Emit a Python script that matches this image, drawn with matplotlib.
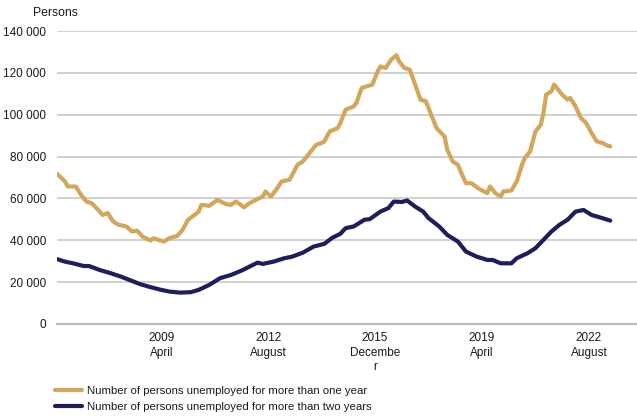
import matplotlib
matplotlib.use("Agg")
import matplotlib.pyplot as plt

plt.rcParams['font.family'] = ['Liberation Sans', 'DejaVu Sans']

# Months (YYYY-MM) and values
one_year_months = [
    "2006-01", "2006-04", "2006-05", "2006-08", "2006-10", "2006-12", "2007-02", "2007-05",
    "2007-06", "2007-08", "2007-10", "2007-12", "2008-03", "2008-05", "2008-07", "2008-09",
    "2008-12", "2009-01", "2009-03", "2009-05", "2009-07", "2009-10", "2009-12", "2010-02",
    "2010-04", "2010-06", "2010-07", "2010-10", "2011-01", "2011-04", "2011-06", "2011-08",
    "2011-11", "2012-01", "2012-04", "2012-06", "2012-07", "2012-09", "2012-11", "2013-01",
    "2013-04", "2013-05", "2013-07", "2013-09", "2013-11", "2014-02", "2014-04", "2014-05",
    "2014-07", "2014-10", "2014-11", "2015-01", "2015-04", "2015-05", "2015-07", "2015-09",
    "2015-11", "2016-01", "2016-02", "2016-04", "2016-06", "2016-08", "2016-09", "2016-11",
    "2017-01", "2017-03", "2017-05", "2017-07", "2017-09", "2017-11", "2018-02", "2018-03",
    "2018-05", "2018-07", "2018-08", "2018-10", "2018-12", "2019-03", "2019-06", "2019-07",
    "2019-09", "2019-11", "2019-12", "2020-03", "2020-05", "2020-07", "2020-08", "2020-10",
    "2020-12", "2021-02", "2021-03", "2021-04", "2021-06", "2021-07", "2021-10", "2021-12",
    "2022-01", "2022-03", "2022-05", "2022-07", "2022-09", "2022-11", "2023-01", "2023-03",
    "2023-04",
]
one_year_values = [
    71800, 68100, 65700, 65700, 61700, 58500, 57700, 53700,
    52100, 53000, 49000, 47400, 46600, 44200, 44600, 41800,
    39900, 41000, 40200, 39400, 41000, 42100, 45000, 49800,
    51700, 53700, 56900, 56500, 59300, 57400, 56900, 58500,
    55800, 57700, 59700, 60900, 63300, 60900, 64100, 68100,
    68900, 71300, 76100, 77700, 80900, 85700, 86500, 87200,
    92000, 93600, 96000, 102400, 104000, 105600, 112800, 113600,
    114400, 120700, 123100, 122300, 126300, 128400, 125500, 122300,
    121500, 114400, 107200, 106400, 100000, 93600, 89600, 83300,
    77700, 76100, 72900, 67300, 67300, 64500, 62500, 65700,
    62500, 60900, 63300, 63800, 68100, 76100, 79300, 82400,
    92000, 95200, 100800, 109600, 111200, 114400, 109600, 107200,
    108000, 104000, 98400, 96000, 91200, 87200, 86500, 85200,
    84900,
]

two_year_months = [
    "2006-01", "2006-04", "2006-07", "2006-11", "2007-01", "2007-05", "2007-09", "2008-01",
    "2008-04", "2008-08", "2008-12", "2009-04", "2009-07", "2009-11", "2010-03", "2010-06",
    "2010-10", "2011-02", "2011-06", "2011-10", "2012-01", "2012-04", "2012-06", "2012-10",
    "2013-02", "2013-05", "2013-09", "2014-01", "2014-05", "2014-08", "2014-11", "2015-01",
    "2015-04", "2015-08", "2015-10", "2016-02", "2016-05", "2016-07", "2016-10", "2016-12",
    "2017-03", "2017-06", "2017-08", "2017-12", "2018-03", "2018-07", "2018-10", "2019-02",
    "2019-06", "2019-08", "2019-11", "2020-03", "2020-05", "2020-09", "2020-12", "2021-03",
    "2021-06", "2021-09", "2021-12", "2022-03", "2022-06", "2022-09", "2023-01", "2023-04",
]
two_year_values = [
    31000, 29800, 29000, 27700, 27700, 25800, 24300, 22600,
    21100, 19100, 17600, 16300, 15500, 15000, 15200, 16300,
    18700, 21900, 23400, 25500, 27400, 29300, 28700, 29800,
    31400, 32200, 34100, 37000, 38300, 41200, 43100, 45800,
    46600, 49800, 50100, 53700, 55400, 58500, 58300, 59000,
    56100, 53700, 50600, 46600, 42600, 39400, 34600, 32200,
    30600, 30600, 29000, 29000, 31400, 33800, 36200, 40200,
    44200, 47400, 49800, 53700, 54500, 52100, 50600, 49400,
]

tick_months = ["2009-04", "2012-08", "2015-12", "2019-04", "2022-08"]
tick_labels = ["2009\nApril", "2012\nAugust", "2015\nDecembe\nr", "2019\nApril", "2022\nAugust"]

y_ticks = [0, 20000, 40000, 60000, 80000, 100000, 120000, 140000]

label_one = "Number of persons unemployed for more than one year"
label_two = "Number of persons unemployed for more than two years"

START_YEAR = 2006


def month_index(m):
    y, mo = m.split("-")
    return (int(y) - START_YEAR) * 12 + int(mo) - 1


def fmt(v):
    return "{:,}".format(v).replace(",", " ")


W, H = 637, 416
fig = plt.figure(figsize=(W / 100, H / 100), dpi=100)
ax = fig.add_axes([57 / W, 1 - 324 / H, 1 - 57 / W, (324 - 31) / H])

orange = "#D3A65B"
navy = "#1F1E5C"
text_col = '#1a1a1a'

ax.plot([month_index(m) for m in one_year_months], one_year_values,
        color=orange, lw=3.0, solid_joinstyle='round', solid_capstyle='round', label=label_one)
ax.plot([month_index(m) for m in two_year_months], two_year_values,
        color=navy, lw=3.0, solid_joinstyle='round', solid_capstyle='round', label=label_two)

ax.set_xlim(0, 217)
ax.set_ylim(0, 140000)

ax.set_yticks(y_ticks)
ax.set_yticklabels([fmt(v) for v in y_ticks])
ax.set_xticks([month_index(m) for m in tick_months])
ax.set_xticklabels(tick_labels, linespacing=1.28)

ax.grid(axis='y', color='#c9c9c9', lw=1.2)
ax.set_axisbelow(True)
for side in ['left', 'right', 'top']:
    ax.spines[side].set_visible(False)
ax.spines['bottom'].set_color('#bdbdbd')
ax.spines['bottom'].set_linewidth(1.6)
ax.spines['bottom'].set_zorder(1)

ax.tick_params(axis='both', length=0, labelsize=8.5, colors=text_col)
ax.tick_params(axis='x', pad=6)
ax.tick_params(axis='y', pad=8)

fig.text(33 / W, 1 - 13 / H, "Persons", fontsize=8.8, color=text_col, va='center', ha='left')

fig.legend(loc='upper left', bbox_to_anchor=(55 / W, 1 - 386 / H), frameon=False,
           fontsize=8.2, handlelength=2.4, handletextpad=0.45, labelspacing=0.5,
           borderpad=0, borderaxespad=0, labelcolor=text_col)

fig.savefig("out.png", dpi=100)
